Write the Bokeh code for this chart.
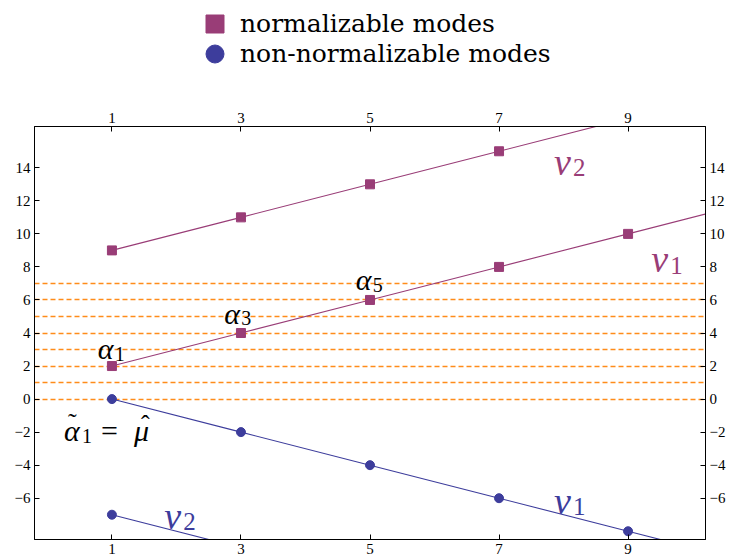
from bokeh.plotting import figure
from bokeh.layouts import column
from bokeh.models import (LinearAxis, FixedTicker, CustomJSTickFormatter, Legend, LegendItem,
                          ColumnDataSource)
from bokeh.core.properties import value
from bokeh.embed import file_html
from bokeh.resources import INLINE

# ---------------- data ----------------
n_values = [1, 3, 5, 7, 9]
norm_v1 = [2, 4, 6, 8, 10]
norm_v2 = [9, 11, 13, 15, 17]
nonnorm_v1 = [0, -2, -4, -6, -8]
nonnorm_v2 = [-7, -9, -11, -13, -15]
alpha_levels = [0, 1, 2, 3, 4, 5, 6, 7]
x_ticks = [1, 3, 5, 7, 9]
y_ticks = [-6, -4, -2, 0, 2, 4, 6, 8, 10, 12, 14]
legend_labels = ["normalizable modes", "non-normalizable modes"]
x_extend = 11  # lines continue past the last point to the frame edge

PURPLE = "#993d77"
BLUE = "#3d3d9c"
ORANGE = "#ff8c1a"
SERIF = "Liberation Serif"
LEGEND_FONT = "DejaVu Serif"


def extended(xs, ys):
    slope = (ys[-1] - ys[-2]) / (xs[-1] - xs[-2])
    return list(xs) + [x_extend], list(ys) + [ys[-1] + slope * (x_extend - xs[-1])]


p = figure(width=729, height=456, x_range=(-0.2, 10.2), y_range=(-8.5, 16.5),
           output_backend="svg", toolbar_location=None,
           min_border_top=26, min_border_left=34, min_border_right=24, min_border_bottom=10,
           background_fill_color="white", border_fill_color="white")
p.grid.visible = False
p.outline_line_color = "black"
p.outline_line_width = 1

p.add_layout(LinearAxis(), "right")
p.add_layout(LinearAxis(), "above")

neg_fmt = "return (tick < 0 ? '\u2212' : '') + Math.abs(tick);"
for ax in p.xaxis:
    ax.ticker = FixedTicker(ticks=x_ticks, minor_ticks=[])
for ax in p.yaxis:
    ax.ticker = FixedTicker(ticks=y_ticks, minor_ticks=[])
    ax.formatter = CustomJSTickFormatter(code=neg_fmt)
for ax in p.xaxis + p.yaxis:
    ax.major_tick_in = 5
    ax.major_tick_out = 0
    ax.minor_tick_in = 0
    ax.minor_tick_out = 0
    ax.axis_line_color = "black"
    ax.major_tick_line_color = "black"
    ax.major_label_text_font = SERIF
    ax.major_label_text_font_size = "15px"
    ax.major_label_text_color = "black"
    ax.major_label_standoff = 4

# dashed alpha levels
p.hspan(y=alpha_levels, line_color=ORANGE, line_dash="5 3", line_width=1.3)

# branch lines and points
for ys, col in [(norm_v1, PURPLE), (norm_v2, PURPLE), (nonnorm_v1, BLUE), (nonnorm_v2, BLUE)]:
    lx, ly = extended(n_values, ys)
    p.line(lx, ly, line_color=col, line_width=1.1)

p.scatter(n_values, norm_v1, marker="square", size=9, color=PURPLE)
p.scatter(n_values, norm_v2, marker="square", size=9, color=PURPLE)
p.scatter(n_values, nonnorm_v1, marker="circle", size=9, color=BLUE)
p.scatter(n_values, nonnorm_v2, marker="circle", size=9, color=BLUE)

# ---------------- math labels ----------------
alpha_x = [0.78, 2.74, 4.78]
alpha_y = [3.05, 5.2, 7.22]
alpha_sub = ["1", "3", "5"]
p.text(x=alpha_x, y=alpha_y, text=["α"] * 3, text_font=value(SERIF), text_font_style="italic",
       text_font_size="30px", text_color="black", text_baseline="alphabetic")
p.text(x=alpha_x, y=alpha_y, text=alpha_sub, text_font=value(SERIF), text_font_size="20px",
       text_color="black", text_baseline="alphabetic", x_offset=17, y_offset=5)

v_x = [7.85, 9.36, 7.85, 1.81]
v_y = [14.36, 8.45, -6.16, -7.06]
v_sub = ["2", "1", "1", "2"]
v_col = [PURPLE, PURPLE, BLUE, BLUE]
vsrc = ColumnDataSource(dict(x=v_x, y=v_y, sub=v_sub, col=v_col, main=["v"] * 4))
p.text(x="x", y="y", text="main", source=vsrc, text_font=value(SERIF), text_font_style="italic",
       text_font_size="38px", text_color="col", text_baseline="alphabetic")
p.text(x="x", y="y", text="sub", source=vsrc, text_font=value(SERIF), text_font_size="25px",
       text_color="col", text_baseline="alphabetic", x_offset=19, y_offset=6)

mu_x = [0.256]
mu_y = [-1.93]
p.text(x=mu_x, y=mu_y, text=["α"], text_font=value(SERIF), text_font_style="italic",
       text_font_size="30px", text_color="black", text_baseline="alphabetic")
p.text(x=mu_x, y=mu_y, text=["\u02dc"], text_font=value(SERIF),
       text_font_size="26px", text_color="black", text_baseline="alphabetic", x_offset=4, y_offset=-8)
p.text(x=mu_x, y=mu_y, text=["1"], text_font=value(SERIF), text_font_size="20px",
       text_color="black", text_baseline="alphabetic", x_offset=18, y_offset=5)
p.text(x=mu_x, y=mu_y, text=["="], text_font=value(SERIF), text_font_size="30px",
       text_color="black", text_baseline="alphabetic", x_offset=37)
p.text(x=mu_x, y=mu_y, text=["μ"], text_font=value(SERIF), text_font_style="italic",
       text_font_size="30px", text_color="black", text_baseline="alphabetic", x_offset=70)
p.text(x=mu_x, y=mu_y, text=["\u02c6"], text_font=value(SERIF),
       text_font_size="26px", text_color="black", text_baseline="alphabetic", x_offset=77, y_offset=-6)

# ---------------- legend (own strip above the plot) ----------------
lg = figure(width=729, height=100, x_range=(100, 101), y_range=(100, 101), output_backend="svg",
            toolbar_location=None, min_border=0, outline_line_color=None,
            background_fill_color="white", border_fill_color="white")
lg.axis.visible = False
lg.grid.visible = False
# key renderers hold the first point of each series; the strip's ranges keep them off-screen
key_sq = lg.scatter(x=n_values[:1], y=norm_v1[:1], marker="square", size=9, color=PURPLE)
key_ci = lg.scatter(x=n_values[:1], y=nonnorm_v1[:1], marker="circle", size=9, color=BLUE)
for rend, lab, loc in [(key_sq, legend_labels[0], (158, 54)),
                       (key_ci, legend_labels[1], (158, 24))]:
    lg.add_layout(Legend(items=[LegendItem(label=lab, renderers=[rend], index=0)], location=loc,
                         glyph_width=45, glyph_height=45, padding=0, margin=0,
                         border_line_alpha=0, background_fill_alpha=0,
                         label_text_font=LEGEND_FONT, label_text_font_size="25px",
                         label_standoff=3, label_text_color="black"), "center")

open("out.html", "w").write(file_html(column(lg, p, spacing=0), INLINE))
